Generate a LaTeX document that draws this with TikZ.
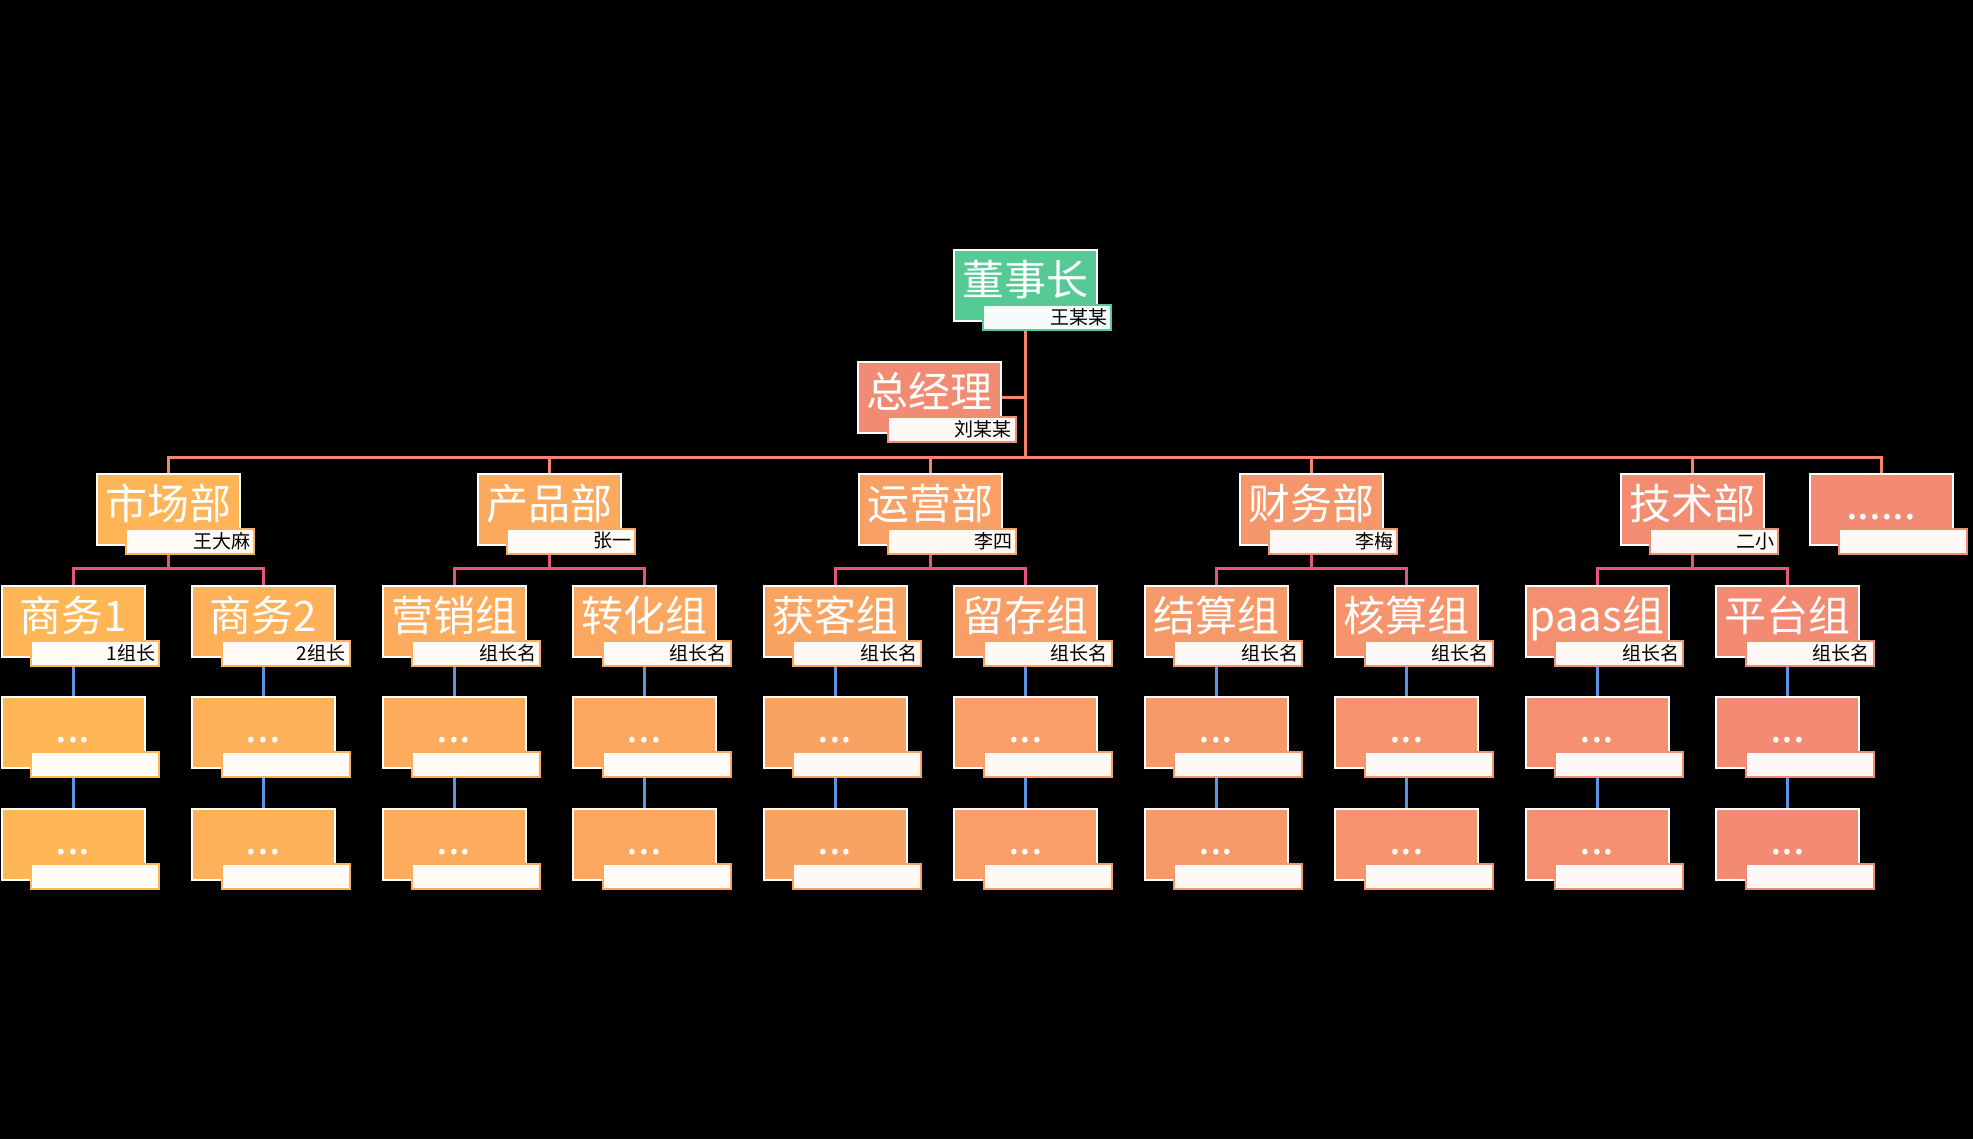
\documentclass[tikz,border=0pt]{standalone}
\usepackage{fontspec}
\setmainfont{Noto Sans CJK SC}
\usetikzlibrary{backgrounds}
\definecolor{boxL}{HTML}{FFB655}
\definecolor{boxR}{HTML}{F28A74}
\definecolor{ceoC}{HTML}{55CA95}
\definecolor{gmC}{HTML}{F28B74}
\definecolor{lineA}{HTML}{F4846E}
\definecolor{lineB}{HTML}{E8557A}
\definecolor{lineC}{HTML}{5E93E6}
\begin{document}
\begin{tikzpicture}[x=0.5pt,y=-0.5pt,
    kasten/.style={draw=white,line width=1pt,fill=#1,minimum width=71.5pt,minimum height=35.5pt,
      inner sep=0pt,text=white,font=\fontsize{21}{21}\selectfont,text height=16pt,text depth=6pt},
    schild/.style={draw=#1,line width=1pt,fill=#1!6!white,minimum width=64pt,minimum height=12.5pt,
      inner xsep=2pt,inner ysep=0pt,text width=60pt,align=right,anchor=north east,
      font=\fontsize{9.5}{9.5}\selectfont},
    linieA/.style={lineA,line width=1.5pt},
    linieB/.style={lineB,line width=1.5pt},
    linieC/.style={lineC,line width=1.5pt}]
    \useasboundingbox (0,0) rectangle (1973,1139);
    % Leitung
    \node[kasten=ceoC] (ceo) at (1025,285.5) {董事长};
    \node[schild=ceoC] (ceo-n) at ([xshift=7.25pt,yshift=9pt]ceo.south east) {王某某};
    \node[kasten=gmC] (gm) at (929.5,397) {总经理};
    \node[schild=gmC] (gm-n) at ([xshift=7.25pt,yshift=9pt]gm.south east) {刘某某};
    \coordinate (hub) at (1025,457);
    % Abteilungen
    \foreach \n/\s [count=\k from 0] in {市场部/王大麻,产品部/张一,运营部/李四,财务部/李梅,技术部/二小} {
        \pgfmathtruncatemacro\p{(2*\k+0.5)*100/9}
        \colorlet{dc}{boxR!\p!boxL}
        \node[kasten=dc] (d\k) at (168+381*\k,509) {\n};
        \node[schild=dc] (d\k-n) at ([xshift=7.25pt,yshift=9pt]d\k.south east) {\s};
    }
    \node[kasten=boxR] (d5) at (1881,509) {......};
    \node[schild=boxR] (d5-n) at ([xshift=7.25pt,yshift=9pt]d5.south east) {};
    % Gruppen
    \foreach \n/\s [count=\i from 0] in {商务1/1组长,商务2/2组长,营销组/组长名,转化组/组长名,获客组/组长名,
        留存组/组长名,结算组/组长名,核算组/组长名,paas组/组长名,平台组/组长名} {
        \pgfmathtruncatemacro\p{\i*100/9}
        \colorlet{gc}{boxR!\p!boxL}
        \node[kasten=gc] (g\i) at (73+190.5*\i,621) {\n};
        \node[schild=gc] (g\i-n) at ([xshift=7.25pt,yshift=9pt]g\i.south east) {\s};
        \node[kasten=gc] (p\i) at (73+190.5*\i,732.5) {...};
        \node[schild=gc] (p\i-n) at ([xshift=7.25pt,yshift=9pt]p\i.south east) {};
        \node[kasten=gc] (q\i) at (73+190.5*\i,844.5) {...};
        \node[schild=gc] (q\i-n) at ([xshift=7.25pt,yshift=9pt]q\i.south east) {};
    }
    % Verbindungen
    \begin{scope}[on background layer]
        \fill[black] (0,0) rectangle (1973,1139);
        \draw[linieA] (ceo.south) -- (hub);
        \draw[linieA] (gm.east) -- (gm.east -| hub);
        \draw[linieA] (d0.north) |- (hub) -| (d5.north);
        \foreach \k in {1,...,4}
            \draw[linieA] (d\k.north) -- (d\k.north |- hub);
        \foreach \k in {0,...,4} {
            \pgfmathtruncatemacro\a{2*\k}
            \pgfmathtruncatemacro\b{2*\k+1}
            \path (d\k.south) ++(0,23) coordinate (j\k);
            \draw[linieB] (d\k.south) -- (j\k);
            \draw[linieB] (g\a.north) |- (j\k) -| (g\b.north);
        }
        \foreach \i in {0,...,9}
            \draw[linieC] (g\i.south) -- (p\i.north) (p\i.south) -- (q\i.north);
    \end{scope}
\end{tikzpicture}
\end{document}
